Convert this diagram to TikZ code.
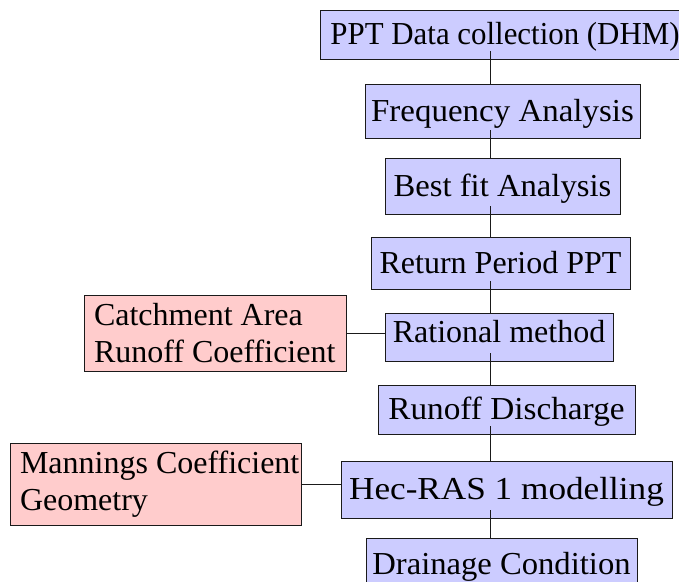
\documentclass[tikz,border=0pt]{standalone}
\usepackage{fontspec}
\setmainfont{Liberation Serif}
\usetikzlibrary{calc}
\definecolor{chartink}{HTML}{1A1A1A}
\definecolor{chartbluefill}{HTML}{CCCCFF}
\definecolor{chartpinkfill}{HTML}{FFCCCC}
\tikzset{
  stepbox/.style={draw=chartink, fill=chartbluefill, line width=.8pt,
    font=\fontsize{32}{37}\selectfont, text=black, align=center,
    inner sep=0pt, text height=24pt, text depth=4pt},
  inputbox/.style={draw=chartink, fill=chartpinkfill, line width=.8pt,
    font=\fontsize{32}{37}\selectfont, text=black, align=flush left,
    inner xsep=10pt, inner ysep=0pt},
  wide/.style={font=\fontsize{32}{37}\selectfont\addfontfeature{FakeStretch=#1}},
  link/.style={draw=chartink, line width=.8pt}
}
\begin{document}
\begin{tikzpicture}[x=1pt,y=-1pt]
  % Rainfall to drainage workflow, drawn in pixel units.
  \useasboundingbox (0,0) rectangle (679,581);
  \coordinate (spine) at (490,0);

  \node[stepbox, wide=.965, minimum width=370pt, minimum height=49pt] (ppt) at (505,34.5) {PPT Data collection (DHM)};
  \node[stepbox, wide=1.03, minimum width=275pt, minimum height=54pt] (freq) at (502.5,111) {Frequency Analysis};
  \node[stepbox, wide=1.02, minimum width=235pt, minimum height=56pt] (bestfit) at (502.5,186) {Best fit Analysis};
  \node[stepbox, minimum width=259pt, minimum height=52pt] (retper) at (500.5,263) {Return Period PPT};
  \node[stepbox, text depth=14pt, minimum width=228pt, minimum height=48pt] (rational) at (499,337) {Rational method};
  \node[stepbox, wide=1.04, minimum width=257pt, minimum height=49pt] (runoff) at (506.5,409.5) {Runoff Discharge};
  \node[stepbox, wide=1.1, minimum width=331pt, minimum height=57pt] (hecras) at (506.5,489.5) {Hec-RAS 1 modelling};
  \node[stepbox, wide=1.02, minimum width=271pt, minimum height=52pt] (drain) at (501.5,564) {Drainage Condition};

  \node[inputbox, text width=242pt, minimum height=76pt] (catch) at (215,333) {Catchment Area\\Runoff Coefficient};
  \node[inputbox, text width=271pt, minimum height=82pt] (manning) at (155.5,484) {\rlap{Mannings Coefficient}\\Geometry};

  \foreach \a/\b in {ppt/freq, freq/bestfit, bestfit/retper, retper/rational,
    rational/runoff, runoff/hecras, hecras/drain} {
    \draw[link] ([yshift=8pt]\a.south -| spine) -- (\b.north -| spine);
  }
  \draw[link] (catch.east) -- (catch.east -| rational.west);
  \draw[link] (manning.east) -- (manning.east -| hecras.west);
\end{tikzpicture}
\end{document}
